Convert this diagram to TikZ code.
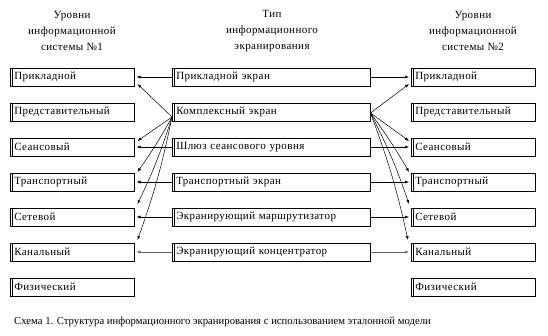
\documentclass[tikz,border=0pt]{standalone}
\usepackage{fontspec}
\setmainfont{Liberation Serif}
\usetikzlibrary{arrows.meta,calc}
\tikzset{
  every node/.style={font=\fontsize{11}{16}\selectfont\addfontfeature{LetterSpace=4}},
  link/.style={-{Latex[length=4pt,width=3pt]}, draw=black, line width=0.5pt},
  faint/.style={link, draw=black!60},
  cell/.style={draw, line width=0.5pt, minimum height=18pt, anchor=west,
    inner xsep=4pt, inner ysep=0pt, align=left},
  layer/.style={cell, minimum width=124pt, text width=116pt},
  screen/.style={cell, minimum width=198pt, text width=190pt},
  head/.style={align=center, inner sep=0pt}
}
\begin{document}
\begin{tikzpicture}[x=1pt,y=-1pt]
  \useasboundingbox (0,0) rectangle (548,335);

  % column titles
  \node[head] (hl) at (72,31) {Уровни\\информационной\\системы №1};
  \node[head] (hm) at (272,31) {Тип\\информационного\\экранирования};
  \node[head] (hr) at (473,31) {Уровни\\информационной\\системы №2};

  % levels of both systems
  \foreach \n/\t [count=\i] in {app/Прикладной,pres/Представительный,
      sess/Сеансовый,trans/Транспортный,net/Сетевой,link/Канальный,
      phys/Физический}{
    \node[layer] (l\n) at (10,42+35*\i) {\t};
    \node[layer] (r\n) at (411,42+35*\i) {\t};
  }

  % screening types
  \node[screen] (mapp) at (172,77) {Прикладной экран};
  \node[screen] (mkompl) at (172,112) {Комплексный экран};
  \node[screen] (msess) at (172,147) {Шлюз сеансового уровня};
  \node[screen] (mtrans) at (172,182) {Транспортный экран};
  \node[screen] (mnet) at (172,217) {Экранирующий маршрутизатор};
  \node[screen] (mlink) at (172,252) {Экранирующий концентратор};

  % shadowed frame: inner left line and heavy bottom edge
  \foreach \n in {lapp,lpres,lsess,ltrans,lnet,llink,lphys,
      rapp,rpres,rsess,rtrans,rnet,rlink,rphys,
      mapp,mkompl,msess,mtrans,mnet,mlink}{
    \draw[line width=0.5pt] ([xshift=2pt]\n.north west) -- ([xshift=2pt]\n.south west);
    \draw[line width=1.2pt] (\n.south west) -- (\n.south east);
  }

  % direct correspondences
  \foreach \n in {app,sess,trans,net}{
    \draw[link, shorten >=2pt] (m\n.west) -- (l\n.east);
    \draw[link, shorten >=2pt] (m\n.east) -- (r\n.west);
  }
  \draw[faint, shorten >=2pt] (mlink.west) -- (llink.east);
  \draw[faint, shorten >=2pt] (mlink.east) -- (rlink.west);

  % complex screen covers several levels
  \coordinate (kl) at ($(mkompl.west)+(0,5)$);
  \coordinate (kr) at ($(mkompl.east)+(0,1)$);
  \draw[link] (kl) -- ($(lapp.east)+(3,7)$);
  \draw[link] (kl) -- ($(lsess.east)+(3,-6)$);
  \draw[link] (kl) to[bend left=3] ($(ltrans.east)+(3,-10)$);
  \draw[link] (kl) to[bend left=4] ($(lnet.east)+(3,-13)$);
  \draw[link] (kl) to[bend left=4] ($(llink.east)+(3,-12)$);
  \draw[link] (kr) -- ($(rapp.west)+(-2,7)$);
  \draw[link] (kr) -- ($(rsess.west)+(-2,-6)$);
  \draw[link] (kr) to[bend left=3] ($(rtrans.west)+(-2,-10)$);
  \draw[link] (kr) to[bend left=4] ($(rnet.west)+(-2,-13)$);
  \draw[link] (kr) to[bend left=4] ($(rlink.west)+(-3,-12)$);

  % caption
  \node[anchor=west, inner sep=0pt, font=\fontsize{10.7}{13}\selectfont] (cap) at (14,322)
    {Схема 1. Структура информационного экранирования с использованием эталонной модели};
\end{tikzpicture}
\end{document}
